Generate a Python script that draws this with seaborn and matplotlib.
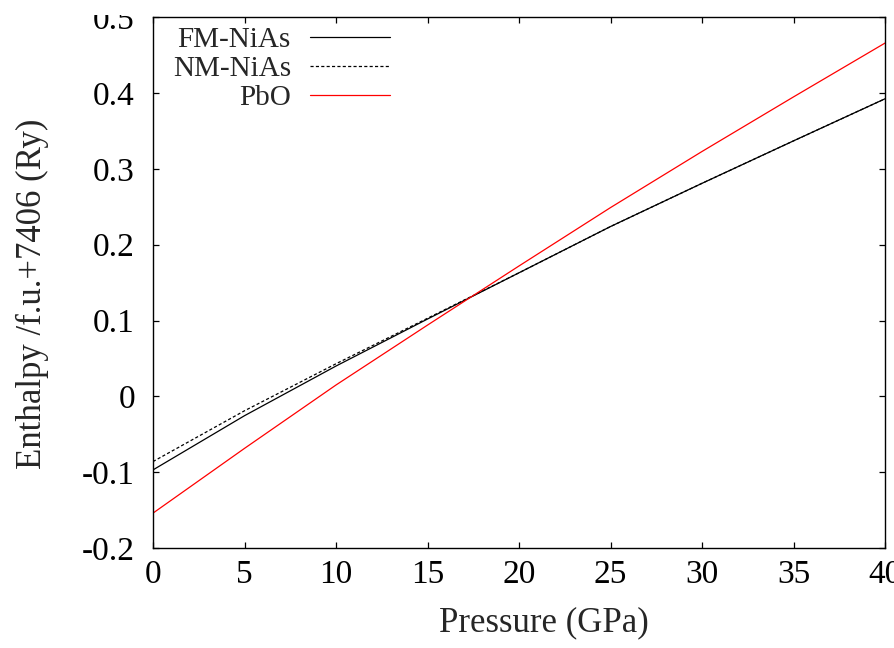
import matplotlib
matplotlib.use("Agg")
import matplotlib.pyplot as plt
from matplotlib.transforms import Bbox
import seaborn as sns
import pandas as pd

# ---- data ----
pressure = [0, 5, 10, 15, 20, 25, 30, 35, 40]
fm_nias = [-0.097, -0.0255, 0.040, 0.102, 0.163, 0.224, 0.281, 0.337, 0.3925]
nm_nias = [-0.086, -0.019, 0.043, 0.103, 0.163, 0.224, 0.281, 0.337, 0.3925]
pbo = [-0.154, -0.0686, 0.015, 0.094, 0.172, 0.249, 0.323, 0.395, 0.466]
series_names = ["FM-NiAs", "NM-NiAs", "PbO"]
xticks = [0, 5, 10, 15, 20, 25, 30, 35, 40]
yticks = [-0.2, -0.1, 0.0, 0.1, 0.2, 0.3, 0.4, 0.5]
ytick_labels = ["-0.2", "-0.1", "0", "0.1", "0.2", "0.3", "0.4", "0.5"]

df = pd.DataFrame({
    "Pressure": pressure * 3,
    "Enthalpy": fm_nias + nm_nias + pbo,
    "Phase": [series_names[0]] * len(pressure) + [series_names[1]] * len(pressure)
             + [series_names[2]] * len(pressure),
})

sns.set_style("ticks")
plt.rcParams["font.family"] = ["Liberation Serif", "DejaVu Serif"]

fig = plt.figure(figsize=(8.94, 6.48), dpi=100)
ax = fig.add_axes([153 / 894, 1 - 548 / 648, (885 - 153) / 894, (548 - 17.3) / 648])

styles = {
    "FM-NiAs": dict(color="black", linestyle="-"),
    "NM-NiAs": dict(color="black", linestyle=(0, (2.5, 1.8))),
    "PbO": dict(color="#ff0000", linestyle="-"),
}
for name in series_names:
    sub = df[df["Phase"] == name]
    sns.lineplot(data=sub, x="Pressure", y="Enthalpy", ax=ax, label=name,
                 linewidth=0.9, estimator=None, **styles[name])

ax.set_xlim(0, 40)
ax.set_ylim(-0.2, 0.5)
ax.set_xticks(xticks)
ax.set_xticklabels([str(t) for t in xticks])
ax.set_yticks(yticks)
ax.set_yticklabels(ytick_labels)

for s in ax.spines.values():
    s.set_visible(True)
    s.set_linewidth(1.0)
    s.set_color("black")

ax.tick_params(axis="both", which="both", direction="in", length=4.5, width=0.9,
               top=True, right=True, labelsize=24, colors="black")
ax.tick_params(axis="x", pad=8)
ax.tick_params(axis="y", pad=13)

# the top "0.5" label is partly cut off in the reference
top_label = ax.get_yticklabels()[-1]
top_label.set_clip_box(Bbox.from_extents(0, 0, 160, 648 - 15))
top_label.set_clip_on(True)

ax.set_xlabel("Pressure (GPa)", fontsize=25)
ax.set_ylabel("Enthalpy /f.u.+7406 (Ry)", fontsize=25)
ax.xaxis.set_label_coords(0.534, -0.109)
ax.yaxis.set_label_coords(-0.142, 0.479)

leg = ax.legend(loc="upper left", bbox_to_anchor=(0.027, 0.983), frameon=False,
                markerfirst=False, fontsize=21, handlelength=2.75,
                handletextpad=0.65, labelspacing=0.1, borderpad=0,
                borderaxespad=0)

fig.savefig("out.png", dpi=100)
